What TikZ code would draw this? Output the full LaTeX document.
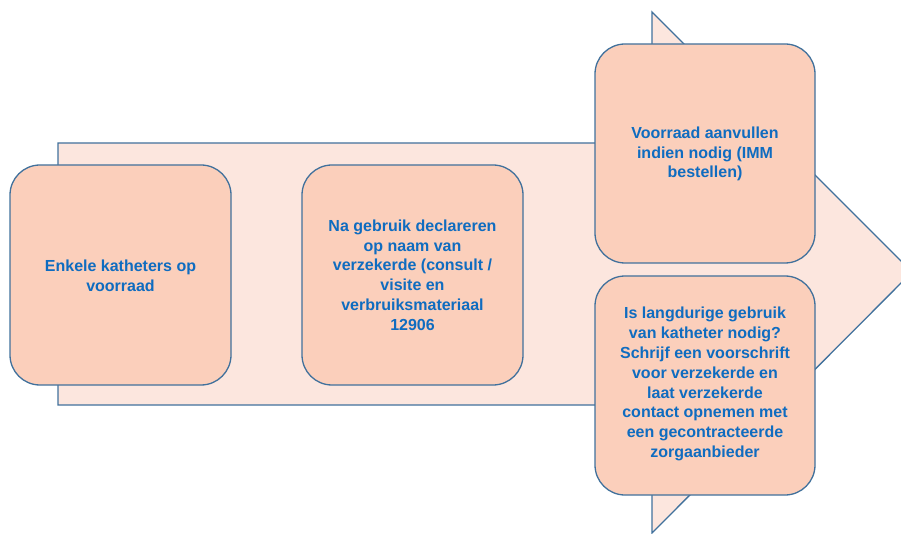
\documentclass[tikz,border=0pt]{standalone}
\usepackage{fontspec}
\setmainfont{Liberation Sans}
\definecolor{arrowfill}{HTML}{FCE6DE}
\definecolor{boxfill}{HTML}{FBCFBB}
\definecolor{edge}{HTML}{41719C}
\definecolor{txt}{HTML}{0F6CC0}
\begin{document}
\begin{tikzpicture}[x=1pt,y=-1pt,
  stepbox/.style={draw=edge, line width=1.3pt, fill=boxfill, rounded corners=30pt},
  lbl/.style={text=txt, font=\fontsize{16}{19.8}\selectfont\bfseries, align=center}]
\useasboundingbox (0,0) rectangle (901,534);
\begin{scope}
\clip (0,0) rectangle (901,534);
\draw[draw=edge, line width=1.3pt, fill=arrowfill]
  (58,143) -- (652,143) -- (652,12) -- (912,272) -- (652,533) -- (652,405) -- (58,405) -- cycle;
\end{scope}
\draw[stepbox] (10,165) rectangle (231,385);
\draw[stepbox] (302,165) rectangle (523,385);
\draw[stepbox] (595,44) rectangle (815,263);
\draw[stepbox] (595,276) rectangle (815,495);
\node[lbl] (a) at (120.5,275.5) {Enkele katheters op\\voorraad};
\node[lbl] (b) at (412.5,275) {Na gebruik declareren\\op naam van\\verzekerde (consult /\\visite en\\verbruiksmateriaal\\12906};
\node[lbl] (c) at (705,154) {Voorraad aanvullen\\indien nodig (IMM\\bestellen)};
\node[lbl] (d) at (705,384) {Is langdurige gebruik\\van katheter nodig?\\Schrijf een voorschrift\\voor verzekerde en\\laat verzekerde\\contact opnemen met\\een gecontracteerde\\zorgaanbieder};
\end{tikzpicture}
\end{document}
